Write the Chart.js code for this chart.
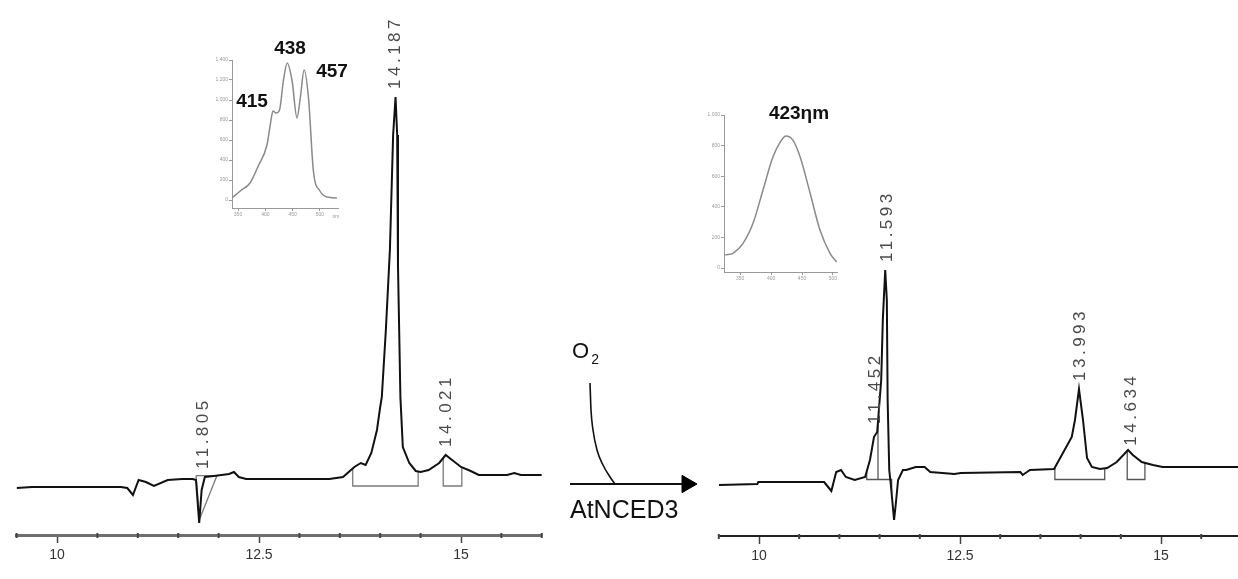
<!DOCTYPE html>
<html>
<head>
<meta charset="utf-8">
<script src="https://cdn.jsdelivr.net/npm/chart.js@4.4.1/dist/chart.umd.min.js"></script>
<style>
html,body{margin:0;padding:0;background:#fff;}
body{width:1238px;height:579px;overflow:hidden;position:relative;font-family:"Liberation Sans",Arial,sans-serif;}
.box{position:absolute;}
.lbl{position:absolute;white-space:nowrap;color:#111;line-height:1;}
.c{transform:translate(-50%,-50%);}
.b{font-weight:bold;font-size:19px;}
</style>
</head>
<body>
<div class="box" style="left:0;top:0;width:560px;height:579px"><canvas id="leftChrom" width="560" height="579"></canvas></div>
<div class="box" style="left:700px;top:0;width:560px;height:579px"><canvas id="rightChrom" width="560" height="579"></canvas></div>
<div class="box" style="left:560px;top:370px;width:150px;height:130px"><canvas id="scheme" width="150" height="130"></canvas></div>
<div class="box" style="left:190px;top:40px;width:160px;height:190px"><canvas id="leftInset" width="160" height="190"></canvas></div>
<div class="box" style="left:680px;top:95px;width:170px;height:195px"><canvas id="rightInset" width="170" height="195"></canvas></div>

<div class="lbl c b" style="left:252px;top:100px">415</div>
<div class="lbl c b" style="left:290px;top:47px">438</div>
<div class="lbl c b" style="left:332px;top:70px">457</div>
<div class="lbl c" style="left:336px;top:216px;font-size:5px;color:#999">nm</div>
<div class="lbl c b" style="left:799px;top:112px">423ηm</div>
<div class="lbl" style="left:572px;top:340px;font-size:22px">O<span style="font-size:14px;position:relative;top:6px;margin-left:2px">2</span></div>
<div class="lbl" style="left:570px;top:497px;font-size:25px">AtNCED3</div>

<script>
// ---------- data ----------
// left chromatogram (substrate), retention time (min) vs. absorbance (mAU)
const leftTime = [9.50,9.69,10.79,10.87,10.94,11.01,11.10,11.20,11.37,11.55,11.68,11.72,11.76,11.79,11.83,11.94,12.13,12.19,12.25,12.34,13.37,13.54,13.68,13.76,13.82,13.89,13.96,14.00,14.02,14.07,14.12,14.16,14.19,14.21,14.22,14.25,14.28,14.36,14.44,14.50,14.60,14.73,14.81,14.89,15.00,15.12,15.22,15.57,15.66,15.74,16.00];
const leftSignal = [9.4,9.6,9.6,9.4,8.0,11.0,10.6,9.8,11.0,11.2,11.2,11.0,2.4,9.0,11.6,11.8,12.2,12.6,11.6,11.2,11.2,11.6,13.6,14.4,14.0,16.4,21.0,25.6,27.6,41.0,57.0,80.0,87.6,80.0,54.0,27.6,17.6,14.4,12.8,12.6,13.0,14.4,16.0,15.0,13.6,12.8,12.0,12.0,12.4,12.0,12.0];
const leftPeakTimes = [11.805, 14.187, 14.821];
const leftPeakLabels = ['11.805', '14.187', '14.021'];
const leftWindows = [[13.66, 14.47], [14.78, 15.01]];
const leftWindowBase = 9.8;
const leftNegWindow = [11.72, 11.765, 11.98];

// right chromatogram (after AtNCED3 + O2)
const rightTime = [9.50,9.98,9.99,10.81,10.86,10.90,10.96,11.02,11.08,11.19,11.32,11.38,11.43,11.47,11.52,11.54,11.57,11.59,11.60,11.62,11.64,11.68,11.70,11.73,11.79,11.83,11.95,12.06,12.13,12.43,12.51,13.25,13.28,13.37,13.67,13.78,13.89,13.93,13.98,14.03,14.08,14.14,14.24,14.33,14.45,14.59,14.65,14.76,14.90,15.02,15.96];
const rightSignal = [10.2,10.4,10.8,10.8,9.8,9.0,12.8,13.2,11.8,11.2,11.8,15.2,19.8,20.8,31.2,43.2,53.2,47.2,27.2,13.2,10.2,3.2,6.2,11.2,13.2,13.2,13.8,13.8,12.8,12.4,12.6,12.8,12.2,13.2,13.4,16.6,19.8,23.2,29.4,23.2,15.6,13.8,13.4,13.6,14.8,17.2,16.2,14.8,14.2,13.8,13.8];
const rightPeakTimes = [11.452, 11.593, 13.993, 14.634];
const rightPeakLabels = ['11.452', '11.593', '13.993', '14.634'];
const rightWindows = [[11.34, 11.65], [13.68, 14.30], [14.58, 14.80]];
const rightDropTimes = [11.48];
const rightWindowBase = 11.3;

// shared time axis
const timeTickValues = [10, 12.5, 15];
const timeTickLabels = ['10', '12.5', '15'];

// insets: absorption spectra (nm vs. mAU)
const leftSpecNm = [339,354,372,387,403,409,414,420,426,433,440,449,458,464,471,479,488,500,513,531];
const leftSpecAbs = [20,90,170,340,550,750,890,870,900,1190,1370,1190,820,1020,1300,1020,290,90,30,20];
const leftSpecYTicks = [0,200,400,600,800,1000,1200,1400];
const rightSpecNm = [326,339,355,371,387,403,415,424,435,447,463,479,495,506];
const rightSpecAbs = [85,98,163,294,510,725,824,863,837,725,490,248,98,39];
const rightSpecYTicks = [0,200,400,600,800,1000];
const specXTicks = [350,400,450,500];

// reaction scheme (schematic units)
const o2CurveX = [3.0,3.1,3.3,3.7,4.3,5.0,5.5];
const o2CurveY = [11.7,9.0,7.0,5.0,3.5,2.3,1.6];
const shaftX = [1.0, 12.2];
const shaftY = [1.6, 1.6];
const headX = [12.7];
const headY = [1.6];

// ---------- helpers ----------
function interp(times, vals, t) {
  for (let i = 1; i < times.length; i++) {
    if (t <= times[i]) {
      const f = (t - times[i-1]) / (times[i] - times[i-1]);
      return vals[i-1] + f * (vals[i] - vals[i-1]);
    }
  }
  return vals[vals.length - 1];
}
function maxNear(times, vals, t, w) {
  let m = interp(times, vals, t);
  times.forEach((tt, i) => { if (Math.abs(tt - t) <= w) m = Math.max(m, vals[i]); });
  return m;
}
function windowLines(times, vals, windows, base, drops) {
  const pts = [];
  windows.forEach(([a, b]) => {
    pts.push({x:a, y:interp(times, vals, a)}, {x:a, y:base}, {x:b, y:base}, {x:b, y:interp(times, vals, b)}, {x:b, y:null});
  });
  (drops || []).forEach(d => {
    pts.push({x:d, y:base}, {x:d, y:interp(times, vals, d)}, {x:d, y:null});
  });
  return pts;
}
const isMajor = v => timeTickValues.some(m => Math.abs(m - v) < 1e-6);

function labelPlugin(times, vals, peakTimes, peakLabels) {
  return {
    id: 'peakLabels',
    afterDatasetsDraw(chart) {
      const {ctx, scales: {x, y}} = chart;
      ctx.save();
      ctx.font = '17px "Liberation Sans", Arial, sans-serif';
      ctx.fillStyle = '#4a4a4a';
      if ('letterSpacing' in ctx) ctx.letterSpacing = '3.5px';
      ctx.textAlign = 'left';
      ctx.textBaseline = 'middle';
      peakTimes.forEach((t, i) => {
        const top = maxNear(times, vals, t, 0.04);
        const px = x.getPixelForValue(t);
        const py = y.getPixelForValue(top) - 8;
        ctx.save();
        ctx.translate(px, py);
        ctx.rotate(-Math.PI / 2);
        ctx.fillText(peakLabels[i], 0, 0);
        ctx.restore();
      });
      ctx.restore();
    }
  };
}
const minorTickPlugin = {
  id: 'minorTicks',
  afterDraw(chart) {
    const {ctx, scales: {x}, chartArea} = chart;
    ctx.save();
    ctx.strokeStyle = '#444';
    ctx.lineWidth = 2;
    x.ticks.forEach(tk => {
      if (isMajor(tk.value)) return;
      const px = x.getPixelForValue(tk.value);
      ctx.beginPath();
      ctx.moveTo(px, chartArea.bottom - 2);
      ctx.lineTo(px, chartArea.bottom + 3);
      ctx.stroke();
    });
    ctx.restore();
  }
};

function makeChrom(id, times, vals, extra, cfg) {
  const datasets = [
    {data: times.map((t, i) => ({x:t, y:vals[i]})), borderColor:'#111', borderWidth:2, pointRadius:0, tension:0, spanGaps:false},
    {data: extra, borderColor: cfg.boxColor, borderWidth:1.3, pointRadius:0, tension:0, spanGaps:false}
  ];
  return new Chart(document.getElementById(id), {
    type: 'line',
    data: {datasets},
    options: {
      responsive:false, animation:false, devicePixelRatio:1,
      layout: {autoPadding:false, padding: {left: cfg.padLeft, right: cfg.padRight, top: 0, bottom: 0}},
      plugins: {legend:{display:false}, tooltip:{enabled:false}},
      scales: {
        x: {
          type:'linear', min:9.5, max:16,
          afterFit: s => { s.height = cfg.xHeight; },
          border: {display:true, color: cfg.axisColor, width: cfg.axisWidth},
          grid: {display:true, drawOnChartArea:false, drawTicks:true, tickLength:8,
                 tickColor: c => isMajor(c.tick.value) ? '#444' : 'rgba(0,0,0,0)', tickWidth:1.5},
          ticks: {stepSize:0.5, autoSkip:false, maxRotation:0, padding:4, color:'#333',
                  font:{family:'"Liberation Sans", Arial, sans-serif', size:14},
                  callback: v => { const k = timeTickValues.findIndex(m => Math.abs(m - v) < 1e-6); return k >= 0 ? timeTickLabels[k] : ''; }}
        },
        y: {type:'linear', display:false, min:0, max:cfg.yMax}
      }
    },
    plugins: [labelPlugin(times, vals, cfg.peakTimes, cfg.peakLabels), minorTickPlugin]
  });
}

// left chromatogram
const leftExtra = windowLines(leftTime, leftSignal, leftWindows, leftWindowBase);
const negTop = interp(leftTime, leftSignal, leftNegWindow[2]);
const negMin = Math.min(...leftSignal) + 0.8;
leftExtra.push({x:leftNegWindow[0], y:negTop}, {x:leftNegWindow[1], y:negMin}, {x:leftNegWindow[2], y:negTop}, {x:leftNegWindow[0], y:negTop}, {x:leftNegWindow[1], y:null});
makeChrom('leftChrom', leftTime, leftSignal, leftExtra, {
  padLeft:16.6, padRight:18.2, xHeight:44, yMax:107, axisColor:'#6e6e6e', axisWidth:3, boxColor:'#7a7a7a',
  peakTimes:leftPeakTimes, peakLabels:leftPeakLabels
});

// right chromatogram
makeChrom('rightChrom', rightTime, rightSignal, windowLines(rightTime, rightSignal, rightWindows, rightWindowBase, rightDropTimes), {
  padLeft:18.8, padRight:18.6, xHeight:43, yMax:107.2, axisColor:'#222', axisWidth:2, boxColor:'#555',
  peakTimes:rightPeakTimes, peakLabels:rightPeakLabels
});

// insets
function makeInset(id, nm, ab, c) {
  return new Chart(document.getElementById(id), {
    type:'line',
    data:{datasets:[{data: nm.map((v, i) => ({x:v, y:ab[i]})), borderColor:'#8a8a8a', borderWidth:1.5, pointRadius:0, cubicInterpolationMode:'monotone'}]},
    options:{
      responsive:false, animation:false, devicePixelRatio:1,
      layout:{autoPadding:false, padding:{top:c.padTop, right:c.padRight, left:0, bottom:0}},
      plugins:{legend:{display:false}, tooltip:{enabled:false}},
      scales:{
        x:{type:'linear', min:c.xMin, max:c.xMax,
           afterBuildTicks: s => { s.ticks = specXTicks.map(v => ({value:v})); },
           afterFit: s => { s.height = c.xHeight; },
           border:{color:'#999', width:1},
           grid:{drawOnChartArea:false, tickLength:3, color:'#999'},
           ticks:{font:{size:5}, color:'#999', padding:1, maxRotation:0, autoSkip:false}},
        y:{type:'linear', min:c.yMin, max:c.yMax,
           afterBuildTicks: s => { s.ticks = c.yTicks.map(v => ({value:v})); },
           afterFit: s => { s.width = c.yWidth; },
           border:{color:'#999', width:1},
           grid:{drawOnChartArea:false, tickLength:3, color:'#999'},
           ticks:{font:{size:5}, color:'#999', padding:1, autoSkip:false}}
      }
    }
  });
}
makeInset('leftInset', leftSpecNm, leftSpecAbs, {padTop:20, padRight:12, xHeight:22, yWidth:42, xMin:339, xMax:533, yMin:-80, yMax:1400, yTicks:leftSpecYTicks});
makeInset('rightInset', rightSpecNm, rightSpecAbs, {padTop:20, padRight:13, xHeight:18, yWidth:44, xMin:324, xMax:506.5, yMin:-26, yMax:1000, yTicks:rightSpecYTicks});

// reaction scheme arrow
new Chart(document.getElementById('scheme'), {
  type:'line',
  data:{datasets:[
    {data: o2CurveX.map((v, i) => ({x:v, y:o2CurveY[i]})), borderColor:'#111', borderWidth:1.6, pointRadius:0, cubicInterpolationMode:'monotone'},
    {data: shaftX.map((v, i) => ({x:v, y:shaftY[i]})), borderColor:'#111', borderWidth:2, pointRadius:0},
    {data: headX.map((v, i) => ({x:v, y:headY[i]})), showLine:false, pointStyle:'triangle', rotation:90, pointRadius:10, backgroundColor:'#000', borderColor:'#000', borderWidth:1}
  ]},
  options:{
    responsive:false, animation:false, devicePixelRatio:1,
    layout:{autoPadding:false, padding:0},
    plugins:{legend:{display:false}, tooltip:{enabled:false}},
    scales:{x:{type:'linear', display:false, min:0, max:15}, y:{type:'linear', display:false, min:0, max:13}}
  }
});
</script>
</body>
</html>
